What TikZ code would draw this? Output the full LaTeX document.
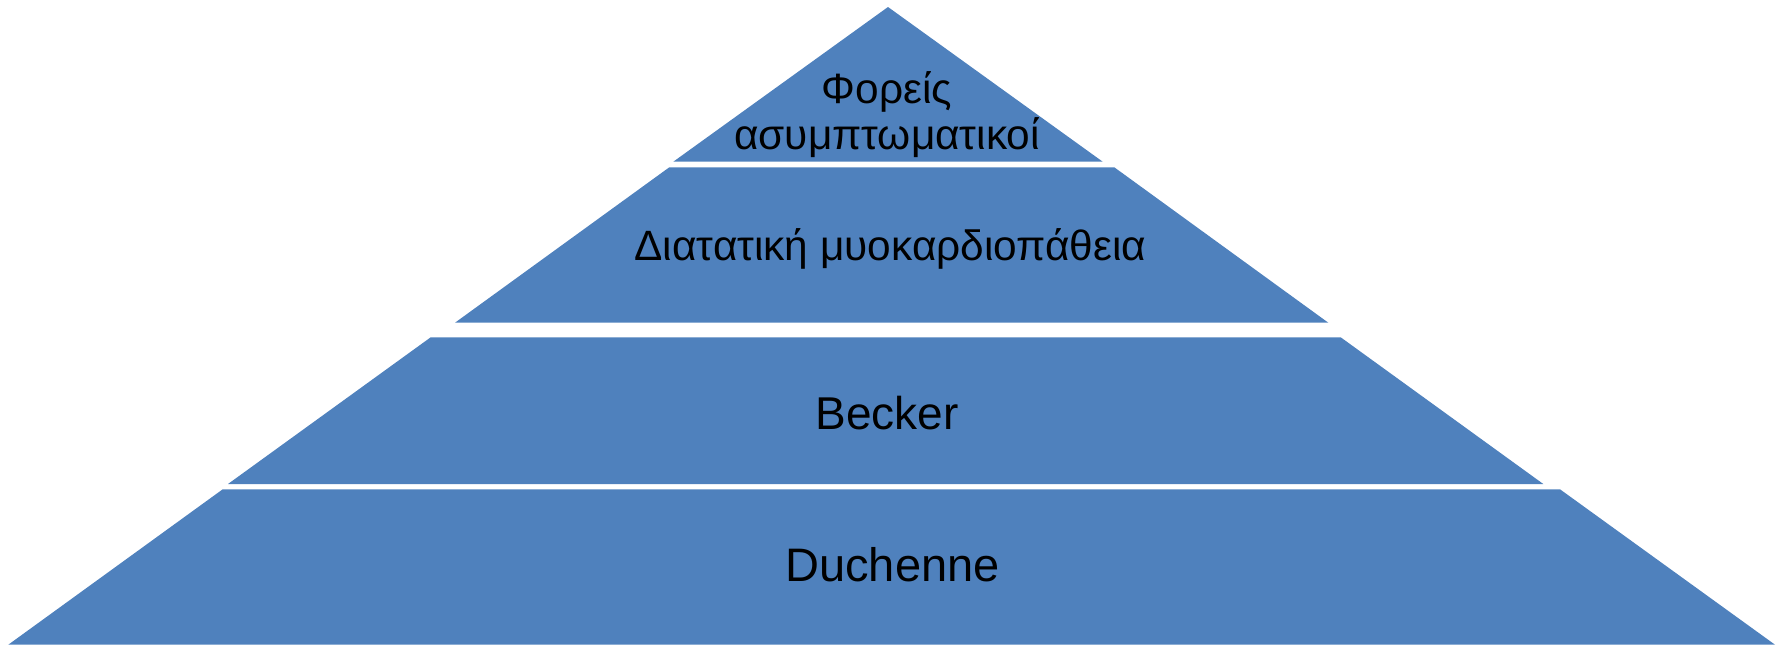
\documentclass[tikz,border=0pt]{standalone}
\usepackage{fontspec}
\setmainfont{Liberation Sans}
\definecolor{cband}{HTML}{4F81BD}
\tikzset{
  every picture/.style={x=1pt, y=-1pt},
  tier/.style={fill=cband, draw=none},
  tiertext/.style={font=\fontsize{47}{54}\selectfont, text=black, inner sep=0pt, anchor=base},
  smalltext/.style={tiertext, font=\fontsize{42.4}{46.5}\selectfont, align=center},
}

\begin{document}
\begin{tikzpicture}
  \useasboundingbox (0,0) rectangle (1783,648);
  % ---------- tiers, top to bottom
  \fill[tier] (888,7) -- (1102.7,161.7) -- (673.3,161.7) -- cycle;
  \fill[tier] (669.3,167.3) -- (1114.3,167.3) -- (1328.3,322.7) -- (455,322.7) -- cycle;
  \fill[tier] (430.7,337.3) -- (1340.7,337.3) -- (1543.3,484) -- (228,484) -- cycle;
  \fill[tier] (222.7,489.3) -- (1560,489.3) -- (1775,644.7) -- (8.3,644.7) -- cycle;
  % ---------- texts
  \node[smalltext, anchor=center] (carriers) at (887,114.5) {Φορείς\\ασυμπτωματικοί};
  \node[tiertext, font=\fontsize{42.4}{46.5}\selectfont] (dcm) at (890.5,260.5) {Διατατική μυοκαρδιοπάθεια};
  \node[tiertext, font=\fontsize{46}{53}\selectfont] (becker) at (887,429.3) {Becker};
  \node[tiertext] (duchenne) at (892.5,581.5) {Duchenne};
\end{tikzpicture}
\end{document}
